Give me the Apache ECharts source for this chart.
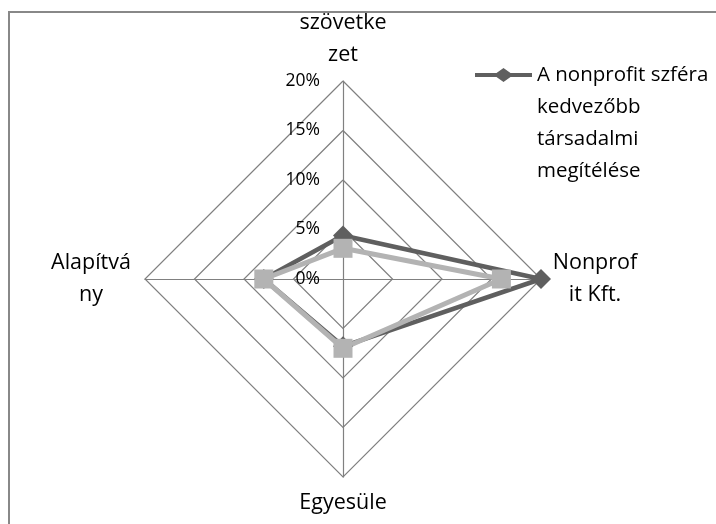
<!DOCTYPE html>
<html>
<head>
<meta charset="utf-8">
<script src="https://cdn.jsdelivr.net/npm/echarts@6/dist/echarts.min.js"></script>
<style>
  html, body { margin: 0; padding: 0; background: #fff; }
  #chart { width: 716px; height: 524px; }
</style>
</head>
<body>
<div id="chart"></div>
<script>
// indicator order is counter-clockwise from the top (echarts radar)
const categories = ['szövetke\nzet', 'Alapítvá\nny', 'Egyesüle\nt', 'Nonprof\nit Kft.'];
const seriesA = [4.4, 8, 6.8, 20];   // A nonprofit szféra kedvezőbb társadalmi megítélése
const seriesB = [3.1, 8, 7, 16];
const ticks = [0, 5, 10, 15, 20];
const nameA = 'A nonprofit szféra\nkedvezőbb\ntársadalmi\nmegítélése';
const nameB = 'B';

const font = 'Open Sans';
// line with a diamond in the middle, like the excel legend key
const legendIcon = 'path://M0,5L21.5,5L28.5,0L35.5,5L57,5L57,9L35.5,9L28.5,14L21.5,9L0,9Z';

const chart = echarts.init(document.getElementById('chart'));
chart.setOption({
  backgroundColor: '#fff',
  animation: false,
  textStyle: { fontFamily: font },
  graphic: [{
    type: 'rect',
    shape: { x: 9, y: 12, width: 900, height: 900 },
    style: { fill: 'none', stroke: '#888', lineWidth: 2 },
    silent: true
  }],
  legend: {
    data: [{ name: nameA, icon: legendIcon }],
    left: 475,
    top: -37,
    padding: 0,
    itemWidth: 57,
    itemHeight: 14,
    formatter: n => '\n\n\n' + n,
    textStyle: {
      fontFamily: font,
      fontSize: 20.5,
      color: '#000',
      lineHeight: 32
    }
  },
  radar: {
    center: [343, 279],
    radius: 198,
    startAngle: 90,
    shape: 'polygon',
    splitNumber: 4,
    indicator: categories.map(c => ({ name: c, min: ticks[0], max: ticks[ticks.length - 1] })),
    axisNameGap: 10,
    axisName: {
      formatter: n => n.split('\n').map(s => '{a|' + s + '}').join('\n'),
      rich: {
        a: { width: 88, align: 'center', fontSize: 21.5, lineHeight: 32, color: '#000', fontFamily: font }
      }
    },
    axisLine: { lineStyle: { color: '#808080', width: 1.2 } },
    splitLine: { lineStyle: { color: '#808080', width: 1.2 } },
    splitArea: { show: false },
    axisTick: { show: false },
    axisLabel: { show: false }
  },
  polar: { center: [343, 279], radius: 198 },
  angleAxis: { show: false, startAngle: 90 },
  radiusAxis: {
    min: ticks[0],
    max: ticks[ticks.length - 1],
    interval: 5,
    axisLine: { show: false },
    axisTick: { show: false },
    splitLine: { show: false },
    axisLabel: {
      formatter: '{value}%',
      margin: 23,
      fontSize: 17.5,
      color: '#000',
      fontFamily: font
    },
    z: 5
  },
  series: [{
    type: 'radar',
    data: [
      {
        name: nameA,
        value: seriesA,
        symbol: 'diamond',
        symbolSize: 20,
        lineStyle: { color: '#5f5f5f', width: 4.5 },
        itemStyle: { color: '#5f5f5f' }
      },
      {
        name: nameB,
        value: seriesB,
        symbol: 'rect',
        symbolSize: 19,
        lineStyle: { color: '#b3b3b3', width: 5 },
        itemStyle: { color: '#b3b3b3' }
      }
    ]
  }]
});
</script>
</body>
</html>
